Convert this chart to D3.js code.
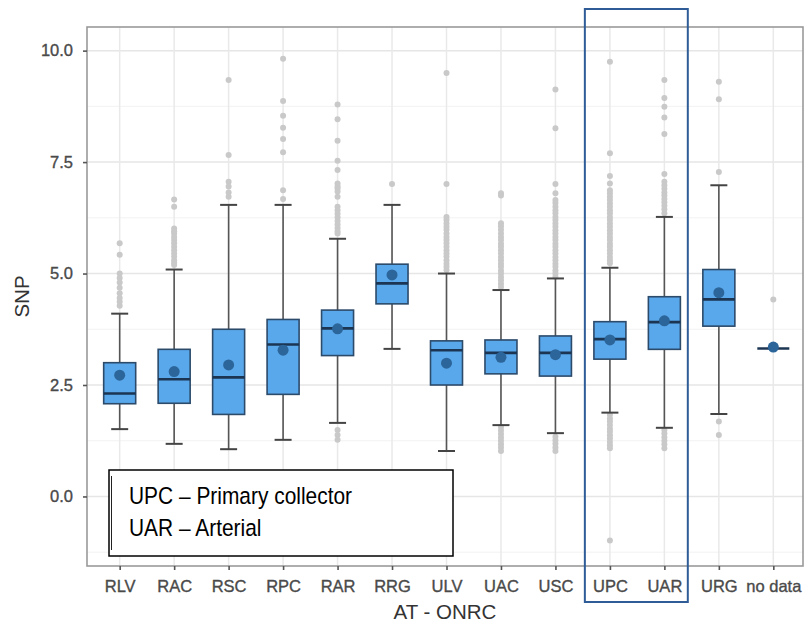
<!DOCTYPE html>
<html>
<head>
<meta charset="utf-8">
<script src="https://cdn.jsdelivr.net/npm/d3@7/dist/d3.min.js"></script>
<style>
  html, body { margin: 0; padding: 0; background: #fff; }
  svg { display: block; }
</style>
</head>
<body>
<svg id="chart" width="806" height="623"></svg>
<script>
// Road classes (AT - ONRC) and SNP box-plot statistics
const categories = ["RLV", "RAC", "RSC", "RPC", "RAR", "RRG", "ULV", "UAC", "USC", "UPC", "UAR", "URG", "no data"];
const lowerWhisker = [1.51, 1.18, 1.06, 1.27, 1.65, 3.31, 1.02, 1.60, 1.42, 1.88, 1.54, 1.85, 3.32];
const q1Values     = [2.08, 2.09, 1.84, 2.29, 3.16, 4.32, 2.50, 2.75, 2.70, 3.08, 3.30, 3.82, 3.32];
const medians      = [2.31, 2.63, 2.67, 3.41, 3.77, 4.78, 3.28, 3.22, 3.22, 3.53, 3.91, 4.42, 3.32];
const q3Values     = [3.00, 3.30, 3.75, 3.97, 4.18, 5.21, 3.49, 3.51, 3.60, 3.92, 4.48, 5.09, 3.32];
const upperWhisker = [4.10, 5.09, 6.54, 6.54, 5.78, 6.54, 5.00, 4.63, 4.89, 5.13, 6.27, 6.98, 3.32];
const means        = [2.72, 2.80, 2.95, 3.28, 3.76, 4.97, 2.99, 3.12, 3.18, 3.51, 3.94, 4.57, 3.35];
const outliers = [
  [5.68, 5.42, 5.0, 4.9, 4.8, 4.68, 4.56, 4.45, 4.37, 4.28],
  [6.66, 6.5, 6.01, 5.95, 5.9, 5.82, 5.75, 5.68, 5.6, 5.52, 5.45, 5.38, 5.3, 5.24, 5.19],
  [9.34, 7.66, 7.06, 6.95, 6.82, 6.72],
  [9.82, 8.87, 8.54, 8.27, 8.02, 7.72, 6.87, 6.67],
  [8.79, 8.46, 7.98, 7.53, 7.32, 7.02, 6.95, 6.91, 6.84, 6.72, 6.5, 6.42, 6.34, 6.26, 6.18, 6.1, 6.02, 5.95, 5.9, 1.49, 1.38, 1.27],
  [7.01],
  [9.5, 7.01, 6.27, 6.2, 6.12, 6.05, 5.98, 5.9, 5.82, 5.75, 5.68, 5.6, 5.52, 5.45, 5.38, 5.3, 5.22, 5.15, 5.08],
  [6.8, 6.75, 6.13, 6.06, 5.98, 5.9, 5.82, 5.75, 5.67, 5.6, 5.52, 5.45, 5.37, 5.3, 5.22, 5.15, 5.07, 5.0, 4.92, 4.85, 4.77, 4.7,
   1.56, 1.48, 1.4, 1.32, 1.25, 1.17, 1.1, 1.02],
  [9.13, 8.26, 7.01, 6.8, 6.65, 6.58, 6.5, 6.42, 6.35, 6.27, 6.2, 6.12, 6.05, 5.97, 5.9, 5.82, 5.75, 5.67, 5.6, 5.52, 5.45, 5.37,
   5.3, 5.22, 5.15, 5.07, 5.0, 4.93, 1.34, 1.26, 1.18, 1.1, 1.02],
  [9.75, 7.7, 7.19, 7.02, 6.87, 6.8, 6.72, 6.65, 6.57, 6.5, 6.42, 6.35, 6.27, 6.2, 6.12, 6.05, 5.97, 5.9, 5.82, 5.75, 5.67, 5.6,
   5.52, 5.45, 5.37, 5.3, 5.23, 1.83, 1.75, 1.68, 1.6, 1.52, 1.45, 1.37, 1.3, 1.22, 1.15, 1.08, -0.99],
  [9.34, 8.94, 8.74, 8.5, 8.13, 7.23, 7.06, 6.98, 6.9, 6.82, 6.75, 6.67, 6.6, 6.52, 6.44, 6.35, 1.49, 1.41, 1.33, 1.25, 1.17, 1.08],
  [9.3, 8.91, 7.28, 1.68, 1.38],
  [4.42]
];
const yTicks = [0, 2.5, 5, 7.5, 10];
const yMinorTicks = [-1.25, 1.25, 3.75, 6.25, 8.75];
const legendLines = ["UPC \u2013 Primary collector", "UAR \u2013 Arterial"];
const highlighted = ["UPC", "UAR"];

const svg = d3.select("#chart");
const panel = { left: 87, right: 803, top: 27, bottom: 566 };
const fontFamily = "'Liberation Sans', Arial, sans-serif";

const x = d3.scalePoint().domain(categories).range([87, 806]).padding(0.6);
const y = d3.scaleLinear().domain([-1.56, 10.53]).range([panel.bottom, panel.top]);

const boxWidth = 32;
const capWidth = 17;
const fmt = d3.format(".1f");

// panel background
svg.append("rect")
  .attr("x", panel.left).attr("y", panel.top)
  .attr("width", panel.right - panel.left).attr("height", panel.bottom - panel.top)
  .attr("fill", "#fff");

// grid lines
const grid = svg.append("g");
grid.selectAll("line.minor").data(yMinorTicks).join("line")
  .attr("x1", panel.left).attr("x2", panel.right)
  .attr("y1", d => y(d)).attr("y2", d => y(d))
  .attr("stroke", "#f2f2f2").attr("stroke-width", 1);
grid.selectAll("line.major").data(yTicks).join("line")
  .attr("x1", panel.left).attr("x2", panel.right)
  .attr("y1", d => y(d)).attr("y2", d => y(d))
  .attr("stroke", "#e6e6e6").attr("stroke-width", 1.5);
grid.selectAll("line.vert").data(categories).join("line")
  .attr("x1", d => x(d)).attr("x2", d => x(d))
  .attr("y1", panel.top).attr("y2", panel.bottom)
  .attr("stroke", "#e9e9e9").attr("stroke-width", 1.5);

// outlier points
const rows = categories.map((c, i) => ({
  cat: c, lo: lowerWhisker[i], q1: q1Values[i], med: medians[i],
  q3: q3Values[i], hi: upperWhisker[i], mean: means[i], out: outliers[i]
}));

const outG = svg.append("g");
rows.forEach(r => {
  outG.selectAll(null).data(r.out).join("circle")
    .attr("cx", x(r.cat)).attr("cy", d => y(d)).attr("r", 3)
    .attr("fill", "#c9c9c9");
});

// whiskers and caps
const boxes = svg.append("g").selectAll("g").data(rows).join("g")
  .attr("transform", d => `translate(${x(d.cat)},0)`);

boxes.append("line")
  .attr("y1", d => y(d.hi)).attr("y2", d => y(d.lo))
  .attr("stroke", "#555").attr("stroke-width", 1.6);
boxes.filter(d => d.hi !== d.q3).append("line")
  .attr("x1", -capWidth / 2).attr("x2", capWidth / 2)
  .attr("y1", d => y(d.hi)).attr("y2", d => y(d.hi))
  .attr("stroke", "#444").attr("stroke-width", 2);
boxes.filter(d => d.lo !== d.q1).append("line")
  .attr("x1", -capWidth / 2).attr("x2", capWidth / 2)
  .attr("y1", d => y(d.lo)).attr("y2", d => y(d.lo))
  .attr("stroke", "#444").attr("stroke-width", 2);

// boxes
boxes.append("rect")
  .attr("x", -boxWidth / 2).attr("width", boxWidth)
  .attr("y", d => y(d.q3)).attr("height", d => y(d.q1) - y(d.q3))
  .attr("fill", "#5aa8ec").attr("stroke", "#2c4a6a").attr("stroke-width", 1.6);

// median
boxes.append("line")
  .attr("x1", -boxWidth / 2).attr("x2", boxWidth / 2)
  .attr("y1", d => y(d.med)).attr("y2", d => y(d.med))
  .attr("stroke", "#1b3552").attr("stroke-width", 2.6);

// mean
boxes.append("circle")
  .attr("cy", d => y(d.mean)).attr("r", 5.5)
  .attr("fill", "#2b6599");

// panel border
svg.append("rect")
  .attr("x", panel.left).attr("y", panel.top)
  .attr("width", panel.right - panel.left).attr("height", panel.bottom - panel.top)
  .attr("fill", "none").attr("stroke", "#9a9a9a").attr("stroke-width", 1.6);

// axes
const yAxis = svg.append("g")
  .attr("transform", `translate(${panel.left},0)`)
  .call(d3.axisLeft(y).tickValues(yTicks).tickFormat(fmt).tickSize(4).tickPadding(10));
const xAxis = svg.append("g")
  .attr("transform", `translate(0,${panel.bottom})`)
  .call(d3.axisBottom(x).tickSize(4).tickPadding(10));
[yAxis, xAxis].forEach(a => {
  a.select(".domain").remove();
  a.selectAll(".tick line").attr("stroke", "#555").attr("stroke-width", 1.6);
  a.selectAll(".tick text")
    .attr("fill", "#4a4a4a")
    .attr("stroke", "#4a4a4a").attr("stroke-width", 0.35)
    .style("font-family", fontFamily)
    .style("font-size", "16.5px");
});

// axis titles
svg.append("text")
  .attr("transform", `translate(21,${(panel.top + panel.bottom) / 2}) rotate(-90)`)
  .attr("text-anchor", "middle").attr("dominant-baseline", "central")
  .attr("fill", "#333")
  .style("font-family", fontFamily).style("font-size", "20.5px")
  .text("SNP");
svg.append("text")
  .attr("x", (panel.left + panel.right) / 2).attr("y", 619)
  .attr("text-anchor", "middle")
  .attr("fill", "#333")
  .style("font-family", fontFamily).style("font-size", "20.5px")
  .text("AT - ONRC");

// legend box
const legend = svg.append("g");
legend.append("rect")
  .attr("x", 109).attr("y", 470).attr("width", 344).attr("height", 86)
  .attr("fill", "#fff").attr("stroke", "#000").attr("stroke-width", 1.5);
legend.append("line")
  .attr("x1", 111.5).attr("x2", 111.5).attr("y1", 476).attr("y2", 550)
  .attr("stroke", "#222").attr("stroke-width", 1);
legend.selectAll("text").data(legendLines).join("text")
  .attr("transform", (d, i) => `translate(129,${504 + i * 32}) scale(0.89,1)`)
  .attr("fill", "#000")
  .style("font-family", fontFamily).style("font-size", "23.5px")
  .text(d => d);

// highlight frame around the urban primary collector and arterial classes
const step = x.step();
const hx0 = x(highlighted[0]) - step * 0.46;
const hx1 = x(highlighted[highlighted.length - 1]) + step * 0.43;
svg.append("rect")
  .attr("x", hx0).attr("y", 9)
  .attr("width", hx1 - hx0).attr("height", 593)
  .attr("fill", "none").attr("stroke", "#2f5b96").attr("stroke-width", 2);
</script>
</body>
</html>
